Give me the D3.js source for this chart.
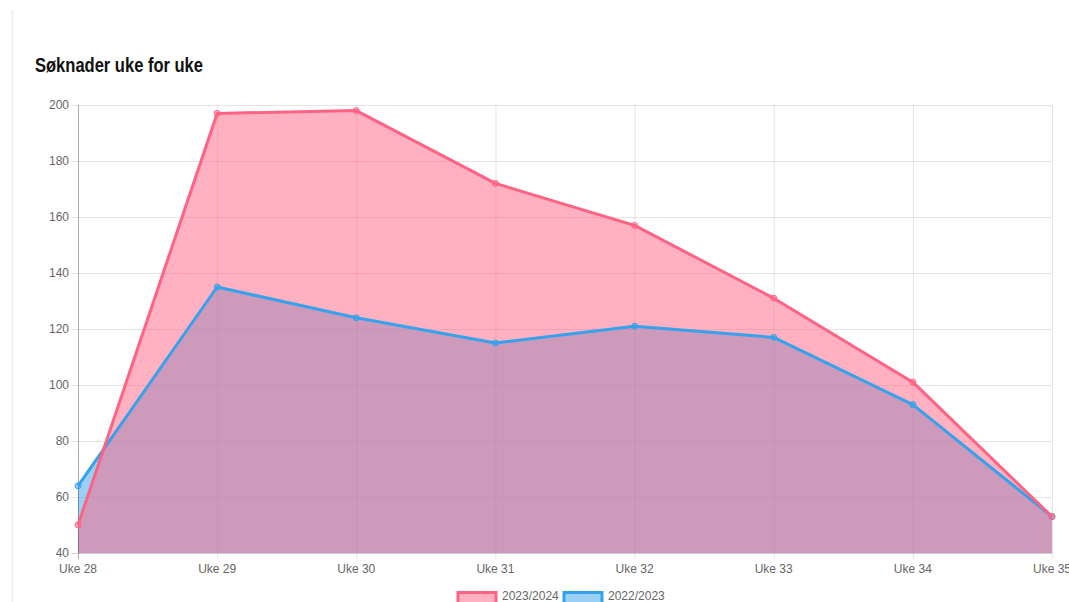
<!DOCTYPE html>
<html><head><meta charset="utf-8">
<script src="https://cdn.jsdelivr.net/npm/d3@7"></script>
<style>
html,body{margin:0;padding:0;background:#fff;overflow:hidden;}
svg{display:block;}
</style></head>
<body>
<svg id="c" width="1069" height="602"></svg>
<script>
const categories = ["Uke 28","Uke 29","Uke 30","Uke 31","Uke 32","Uke 33","Uke 34","Uke 35"];
const series2023 = [50,197,198,172,157,131,101,53];
const series2022 = [64,135,124,115,121,117,93,53];
const yTicks = [40,60,80,100,120,140,160,180,200];
const seriesNames = ["2023/2024","2022/2023"];

(function(){
const svg = d3.select("#c");
const W=1069,H=602;
const pL=78,pR=1052,pT=105,pB=553;

svg.append("rect").attr("x",11.5).attr("y",10).attr("width",2).attr("height",H-10).attr("fill","#efefef");

svg.append("text").attr("x",35).attr("y",72)
  .attr("font-family","'Liberation Sans',Arial,sans-serif")
  .attr("font-weight","bold").attr("font-size",20).attr("fill","#111")
  .attr("textLength",168).attr("lengthAdjust","spacingAndGlyphs")
  .text("Søknader uke for uke");

const x = d3.scalePoint().domain(categories).range([pL,pR]);
const y = d3.scaleLinear().domain([40,200]).range([pB,pT]);

const grid = svg.append("g");
grid.selectAll("line.h").data(yTicks).join("line")
  .attr("x1",pL-6).attr("x2",pR).attr("y1",d=>y(d)+0.5).attr("y2",d=>y(d)+0.5)
  .attr("stroke","rgba(0,0,0,0.1)").attr("stroke-width",1);
grid.selectAll("line.v").data(categories).join("line")
  .attr("y1",pT).attr("y2",pB+6).attr("x1",d=>x(d)+0.5).attr("x2",d=>x(d)+0.5)
  .attr("stroke","rgba(0,0,0,0.1)").attr("stroke-width",1);

const font="'Liberation Sans',Arial,Helvetica,sans-serif";
svg.append("g").selectAll("text").data(yTicks).join("text")
  .attr("x",pL-9).attr("y",d=>y(d)+4).attr("text-anchor","end")
  .attr("font-family",font).attr("font-size",12).attr("fill","#666").text(d=>d);
svg.append("g").selectAll("text").data(categories).join("text")
  .attr("x",d=>x(d)).attr("y",pB+20).attr("text-anchor","middle")
  .attr("font-family",font).attr("font-size",12).attr("fill","#666").text(d=>d);

const red="rgb(255,99,132)", redF="rgba(255,99,132,0.5)";
const blue="rgb(54,162,235)", blueF="rgba(54,162,235,0.5)";

const area = d3.area().x((d,i)=>x(categories[i])).y0(pB).y1(d=>y(d));
const line = d3.line().x((d,i)=>x(categories[i])).y(d=>y(d));

svg.append("path").datum(series2022).attr("d",area).attr("fill",blueF);
svg.append("path").datum(series2023).attr("d",area).attr("fill",redF);

svg.append("line").attr("x1",pL+0.5).attr("x2",pL+0.5).attr("y1",pT).attr("y2",pB+6).attr("stroke","rgba(0,0,0,0.25)");
svg.append("line").attr("x1",pL-6).attr("x2",pR).attr("y1",pB+0.5).attr("y2",pB+0.5).attr("stroke","rgba(0,0,0,0.1)");

function drawSeries(data,stroke,fill){
  svg.append("path").datum(data).attr("d",line).attr("fill","none").attr("stroke",stroke).attr("stroke-width",3).attr("stroke-linejoin","round");
  svg.append("g").selectAll("circle").data(data).join("circle")
    .attr("cx",(d,i)=>x(categories[i])).attr("cy",d=>y(d)).attr("r",3)
    .attr("fill",fill).attr("stroke",stroke).attr("stroke-width",1);
}
drawSeries(series2022,blue,blueF);
drawSeries(series2023,red,redF);

const legend=[{name:seriesNames[0],s:red,f:redF,x:458},{name:seriesNames[1],s:blue,f:blueF,x:564}];
const lg=svg.append("g");
legend.forEach(l=>{
  lg.append("rect").attr("x",l.x).attr("y",592.5).attr("width",38).attr("height",12).attr("fill",l.f).attr("stroke",l.s).attr("stroke-width",3);
  lg.append("text").attr("x",l.x+44).attr("y",600).attr("font-family",font).attr("font-size",12).attr("fill","#666").text(l.name);
});
})();
</script>
</body></html>
